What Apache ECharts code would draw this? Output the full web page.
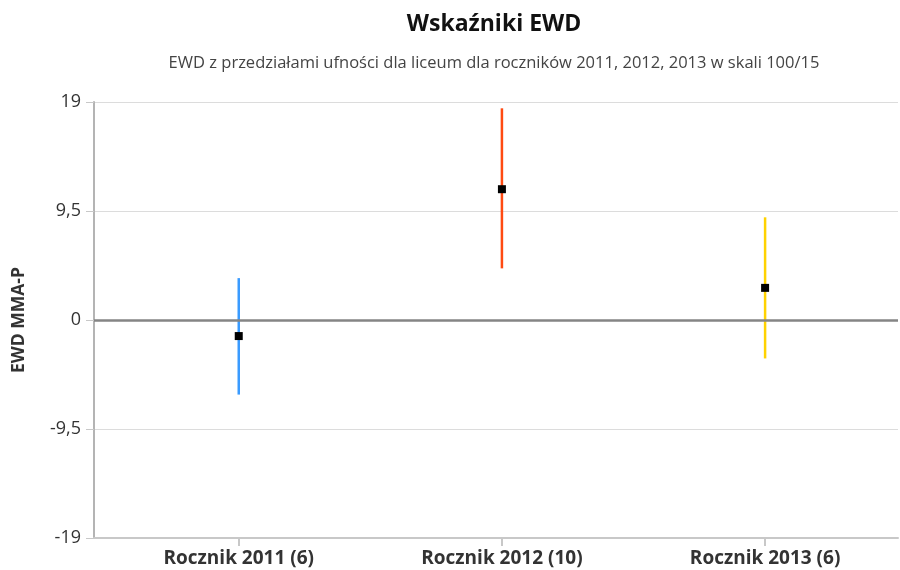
<!DOCTYPE html>
<html>
<head>
<meta charset="utf-8">
<script src="https://cdn.jsdelivr.net/npm/echarts@6/dist/echarts.min.js"></script>
<style>
  html, body { margin: 0; padding: 0; background: #fff; }
  #chart { width: 900px; height: 570px; }
</style>
</head>
<body>
<div id="chart"></div>
<script>
// dane
const categories = ['Rocznik 2011 (6)', 'Rocznik 2012 (10)', 'Rocznik 2013 (6)']
const ewdValues = [-1.4, 11.4, 2.8]
const lowerBounds = [-6.5, 4.5, -3.35]
const upperBounds = [3.65, 18.45, 8.95]
const barColors = ['#3a9bff', '#ff4a12', '#ffd200']

const font = '"Open Sans", "Noto Sans", sans-serif'

const chart = echarts.init(document.getElementById('chart'))

const intervals = categories.map(function(c, i) {
  return [i, lowerBounds[i], upperBounds[i]]
})
const points = categories.map(function(c, i) {
  return [i, ewdValues[i]]
})

chart.setOption({
  animation: false,
  title: [{
    text: 'Wskaźniki EWD',
    left: 489,
    top: 8,
    textAlign: 'center',
    textStyle: { fontFamily: font, fontSize: 23, fontWeight: 'bold', color: '#111' }
  }, {
    text: 'EWD z przedziałami ufności dla liceum dla roczników 2011, 2012, 2013 w skali 100/15',
    left: 489,
    top: 50,
    textAlign: 'center',
    textStyle: { fontFamily: font, fontSize: 16.5, fontWeight: 'normal', color: '#444' }
  }],
  grid: {
    left: 94,
    right: 2,
    top: 102,
    bottom: 32
  },
  xAxis: {
    type: 'value',
    min: -0.55,
    max: 2.505,
    axisLine: { show: true, onZero: false, lineStyle: { color: '#c8c8c8', width: 2 } },
    axisTick: { show: true, customValues: [0, 1, 2], length: 8, lineStyle: { color: '#c8c8c8', width: 2 } },
    axisLabel: {
      customValues: [0, 1, 2],
      margin: 11,
      fontFamily: font,
      fontSize: 19,
      fontWeight: 'bold',
      color: '#333',
      formatter: function(v) { return categories[Math.round(v)] }
    },
    splitLine: { show: false }
  },
  yAxis: {
    type: 'value',
    min: -19,
    max: 19,
    interval: 9.5,
    name: 'EWD MMA-P',
    nameLocation: 'middle',
    nameGap: 66,
    nameTextStyle: { fontFamily: font, fontSize: 17.5, fontWeight: 'bold', color: '#333' },
    axisLine: { show: true, onZero: false, lineStyle: { color: '#b4b4b4', width: 2 } },
    axisTick: { show: true, length: 8, lineStyle: { color: '#c8c8c8' } },
    axisLabel: {
      margin: 13,
      fontFamily: font,
      fontSize: 18,
      color: '#333',
      formatter: function(v) { return String(v).replace('.', ',') }
    },
    splitLine: {
      show: true,
      lineStyle: { color: '#dcdcdc', width: 1 }
    }
  },
  series: [{
    type: 'custom',
    data: intervals,
    z: 3,
    renderItem: function(params, api) {
      const i = api.value(0)
      const lo = api.coord([i, api.value(1)])
      const hi = api.coord([i, api.value(2)])
      return {
        type: 'line',
        shape: { x1: lo[0], y1: lo[1], x2: hi[0], y2: hi[1] },
        style: { stroke: barColors[params.dataIndex], lineWidth: 2.5 }
      }
    }
  }, {
    type: 'scatter',
    data: points,
    symbol: 'rect',
    symbolSize: 8,
    z: 4,
    itemStyle: { color: '#000', opacity: 1 },
    markLine: {
      silent: true,
      symbol: 'none',
      label: { show: false },
      lineStyle: { color: '#858585', width: 2.5, type: 'solid' },
      data: [{ yAxis: 0 }]
    }
  }]
})
</script>
</body>
</html>
